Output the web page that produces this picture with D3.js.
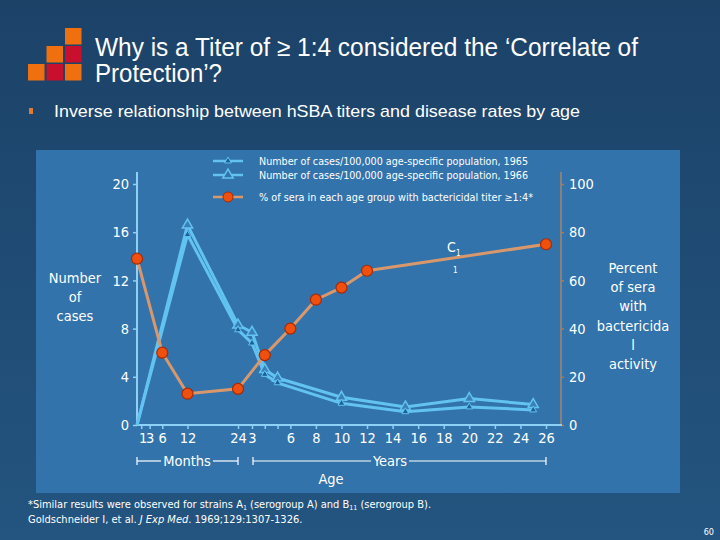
<!DOCTYPE html>
<html><head><meta charset="utf-8">
<script src="https://cdn.jsdelivr.net/npm/d3@7"></script>
<style>
html,body{margin:0;padding:0;background:#1f4a70;}
svg{display:block;}
</style></head>
<body>
<svg id="c" width="720" height="540"></svg>
<script>
// ---- data ----
const caseAgesMonths = [0, 12, 24, 36, 48, 60, 120, 180, 240, 300];
const cases1965 = [0, 15.8, 7.9, 6.8, 4.2, 3.5, 1.8, 1.1, 1.5, 1.25];
const cases1966 = [0, 16.6, 8.3, 7.7, 4.6, 3.9, 2.3, 1.5, 2.2, 1.7];
const seraAgesMonths = [0, 6, 12, 24, 48, 72, 96, 120, 144, 312];
const seraPercent = [69, 30, 13, 15, 29, 40, 52, 57, 64, 75];
const monthTicks = [1, 3, 6, 12, 24];
const yearTicks = [3, 4, 5, 6, 8, 10, 12, 14, 16, 18, 20, 22, 24, 26];
const yearTickLabels = ["3", "", "", "6", "8", "10", "12", "14", "16", "18", "20", "22", "24", "26"];
const leftTicks = [0, 4, 8, 12, 16, 20];
const rightTicks = [0, 20, 40, 60, 80, 100];
const legendLabels = [
  "Number of cases/100,000 age-specific population, 1965",
  "Number of cases/100,000 age-specific population, 1966",
  "% of sera in each age group with bactericidal titer \u22651:4*"
];

const svg = d3.select("#c");
const F = "'DejaVu Sans Condensed', Tahoma, 'Liberation Sans', sans-serif";
const FT = "'Liberation Sans Narrow', 'Liberation Sans', Arial, sans-serif";

// background
const defs = svg.append("defs");
const g0 = defs.append("linearGradient").attr("id","bg").attr("x1",0).attr("y1",0).attr("x2",0).attr("y2",1);
g0.append("stop").attr("offset","0%").attr("stop-color","#1c4268");
g0.append("stop").attr("offset","100%").attr("stop-color","#235580");
svg.append("rect").attr("width",720).attr("height",540).attr("fill","url(#bg)");

// logo
const logo = [[2,0,"#f07010"],[1,1,"#f07010"],[2,1,"#c8102e"],[0,2,"#f07010"],[1,2,"#c8102e"],[2,2,"#f07010"]];
svg.append("g").selectAll("rect").data(logo).join("rect")
  .attr("x", d => 28 + d[0]*18.5).attr("y", d => 28 + d[1]*18)
  .attr("width",16.5).attr("height",16.5).attr("fill", d => d[2]);

// title
svg.append("text").attr("x",95).attr("y",56).attr("fill","#fff").attr("font-family",FT).attr("font-size",25)
  .attr("textLength",543).attr("lengthAdjust","spacingAndGlyphs")
  .text("Why is a Titer of \u2265 1:4 considered the \u2018Correlate of");
svg.append("text").attr("x",95).attr("y",82).attr("fill","#fff").attr("font-family",FT).attr("font-size",25)
  .attr("textLength",127).attr("lengthAdjust","spacingAndGlyphs")
  .text("Protection\u2019?");
svg.append("rect").attr("x",29).attr("y",108).attr("width",4).attr("height",6).attr("fill","#e07a3a");
svg.append("text").attr("x",54).attr("y",117).attr("fill","#fff").attr("font-family",FT).attr("font-size",17)
  .attr("textLength",526).attr("lengthAdjust","spacingAndGlyphs")
  .text("Inverse relationship between hSBA titers and disease rates by age");

// panel
svg.append("rect").attr("x",36).attr("y",150).attr("width",644).attr("height",343).attr("fill","#3273ab");

// scales
const x = d3.scaleLinear().domain([0, 24, 36, 312]).range([137, 238, 252, 546]);
const yL = d3.scaleLinear().domain([0, 20]).range([425, 184]);
const yR = d3.scaleLinear().domain([0, 100]).range([425, 184]);

const axisCol = "#8fd0f5";
const txtCol = "#ffffff";

// left axis
const la = svg.append("g").attr("transform","translate(137,0)")
  .call(d3.axisLeft(yL).tickValues(leftTicks).tickSize(4).tickPadding(4));
la.select(".domain").attr("d","M0,172V425").attr("stroke",axisCol).attr("stroke-width",2);
la.selectAll(".tick line").attr("stroke",axisCol).attr("stroke-width",1.5);
la.selectAll("text").attr("fill",txtCol).attr("font-family",F).attr("font-size",14.5);

// right axis
const ra = svg.append("g").attr("transform","translate(561,0)")
  .call(d3.axisRight(yR).tickValues(rightTicks).tickSize(3).tickPadding(5));
ra.select(".domain").attr("d","M0,172V425").attr("stroke","#8a8078").attr("stroke-width",2);
ra.selectAll(".tick line").attr("stroke","#b07a50").attr("stroke-width",1.5);
ra.selectAll("text").attr("fill",txtCol).attr("font-family",F).attr("font-size",14.5);

// bottom axis
const allTicks = monthTicks.concat(yearTicks.map(v => v*12));
const allLabels = monthTicks.map(String).concat(yearTickLabels);
const ba = svg.append("g").attr("transform","translate(0,425)")
  .call(d3.axisBottom(x).tickValues(allTicks).tickSize(4).tickPadding(4)
        .tickFormat((d,i) => allLabels[i]));
ba.select(".domain").attr("d","M137,0H562").attr("stroke",axisCol).attr("stroke-width",2);
ba.selectAll(".tick line").attr("stroke",axisCol).attr("stroke-width",1.5);
ba.selectAll("text").attr("fill",txtCol).attr("font-family",F).attr("font-size",14.5);
ba.selectAll(".tick text").filter((d,i) => i === 0).attr("dx", 1.5);

// months / years brackets
const brk = svg.append("g").attr("stroke","#ffffff").attr("stroke-width",1.2);
function bracket(x0, x1, tx0, tx1, y) {
  brk.append("line").attr("x1",x0).attr("x2",tx0).attr("y1",y).attr("y2",y);
  brk.append("line").attr("x1",tx1).attr("x2",x1).attr("y1",y).attr("y2",y);
  brk.append("line").attr("x1",x0).attr("x2",x0).attr("y1",y-4).attr("y2",y+4);
  brk.append("line").attr("x1",x1).attr("x2",x1).attr("y1",y-4).attr("y2",y+4);
}
bracket(x(0), x(24), 161, 213, 461);
bracket(x(36)+1, x(312), 371, 409, 461);
svg.append("text").attr("x",187).attr("y",466).attr("text-anchor","middle").attr("fill",txtCol)
  .attr("font-family",F).attr("font-size",14.5).text("Months");
svg.append("text").attr("x",390).attr("y",466).attr("text-anchor","middle").attr("fill",txtCol)
  .attr("font-family",F).attr("font-size",14.5).text("Years");
svg.append("text").attr("x",331).attr("y",484).attr("text-anchor","middle").attr("fill",txtCol)
  .attr("font-family",F).attr("font-size",14.5).text("Age");

// axis titles
const lt = svg.append("text").attr("text-anchor","middle").attr("fill",txtCol).attr("font-family",F).attr("font-size",14.5);
["Number","of","cases"].forEach((s,i) => lt.append("tspan").attr("x",75).attr("y",283 + i*19).text(s));
const rt = svg.append("text").attr("text-anchor","middle").attr("fill",txtCol).attr("font-family",F).attr("font-size",14.5);
["Percent","of sera","with","bactericida","l","activity"].forEach((s,i) => rt.append("tspan").attr("x",633).attr("y",273 + i*19.2).text(s));

// series
const blue = "#62c3f2";
const lineL = d3.line().x(d => x(d.a)).y(d => yL(d.v));
const lineR = d3.line().x(d => x(d.a)).y(d => yR(d.v));
const s65 = caseAgesMonths.map((a,i) => ({a, v: cases1965[i]}));
const s66 = caseAgesMonths.map((a,i) => ({a, v: cases1966[i]}));
const sSera = seraAgesMonths.map((a,i) => ({a, v: seraPercent[i]}));

svg.append("path").datum(s65).attr("d",lineL).attr("fill","none").attr("stroke",blue).attr("stroke-width",3);
svg.append("path").datum(s66).attr("d",lineL).attr("fill","none").attr("stroke",blue).attr("stroke-width",3);

const triSmall = d3.symbol().type(d3.symbolTriangle).size(20);
const triBig = d3.symbol().type(d3.symbolTriangle).size(46);
svg.append("g").selectAll("path").data(s66.filter(d => d.v > 0)).join("path")
  .attr("d", triBig).attr("transform", d => `translate(${x(d.a)},${yL(d.v)})`)
  .attr("fill","#3a7fb8").attr("stroke",blue).attr("stroke-width",1.5);
svg.append("g").selectAll("path").data(s65.filter(d => d.v > 0)).join("path")
  .attr("d", triSmall).attr("transform", d => `translate(${x(d.a)},${yL(d.v)})`)
  .attr("fill","#1d5f98").attr("stroke",blue).attr("stroke-width",1);

svg.append("path").datum(sSera).attr("d",lineR).attr("fill","none").attr("stroke","#d9986c").attr("stroke-width",3);
svg.append("g").selectAll("circle").data(sSera).join("circle")
  .attr("cx", d => x(d.a)).attr("cy", d => yR(d.v)).attr("r",5.5)
  .attr("fill","#f0500e").attr("stroke","#a82a05").attr("stroke-width",1.2);

// stray annotation
svg.append("text").attr("x",447).attr("y",252).attr("fill",txtCol).attr("font-family",F).attr("font-size",14).text("C");
svg.append("text").attr("x",456).attr("y",256).attr("fill",txtCol).attr("font-family",F).attr("font-size",8).text("1");
svg.append("text").attr("x",453).attr("y",273).attr("fill",txtCol).attr("font-family",F).attr("font-size",8).text("1");

// legend
const legY = [161, 175, 197];
const lg = svg.append("g");
legY.forEach((yy, i) => {
  const col = i < 2 ? blue : "#d9986c";
  lg.append("line").attr("x1",213).attr("x2",243).attr("y1",yy).attr("y2",yy).attr("stroke",col).attr("stroke-width",2.5);
  lg.append("text").attr("x",259).attr("y",yy+3.5).attr("fill",txtCol).attr("font-family",F).attr("font-size",10)
    .attr("textLength", i < 2 ? 269 : 274).attr("lengthAdjust","spacingAndGlyphs").text(legendLabels[i]);
});
lg.append("path").attr("d",triSmall()).attr("transform",`translate(228,${legY[0]})`).attr("fill","#1d5f98").attr("stroke",blue).attr("stroke-width",1);
lg.append("path").attr("d",triBig()).attr("transform",`translate(228,${legY[1]})`).attr("fill","#3273ab").attr("stroke",blue).attr("stroke-width",1.5);
lg.append("circle").attr("cx",228).attr("cy",legY[2]).attr("r",5).attr("fill","#f0500e").attr("stroke","#a82a05");

// footnotes
const fn1 = svg.append("text").attr("x",28).attr("y",508).attr("fill",txtCol).attr("font-family",F).attr("font-size",11);
fn1.append("tspan").text("*Similar results were observed for strains A");
fn1.append("tspan").attr("font-size",7).attr("dy",2).text("1");
fn1.append("tspan").attr("dy",-2).text(" (serogroup A) and B");
fn1.append("tspan").attr("font-size",7).attr("dy",2).text("11");
fn1.append("tspan").attr("dy",-2).text(" (serogroup B).");
const fn2 = svg.append("text").attr("x",28).attr("y",523).attr("fill",txtCol).attr("font-family",F).attr("font-size",11);
fn2.append("tspan").text("Goldschneider I, et al. ");
fn2.append("tspan").attr("font-style","italic").text("J Exp Med");
fn2.append("tspan").text(". 1969;129:1307-1326.");
svg.append("text").attr("x",714).attr("y",535).attr("text-anchor","end").attr("fill",txtCol)
  .attr("font-family",F).attr("font-size",9).text("60");
</script>
</body></html>
